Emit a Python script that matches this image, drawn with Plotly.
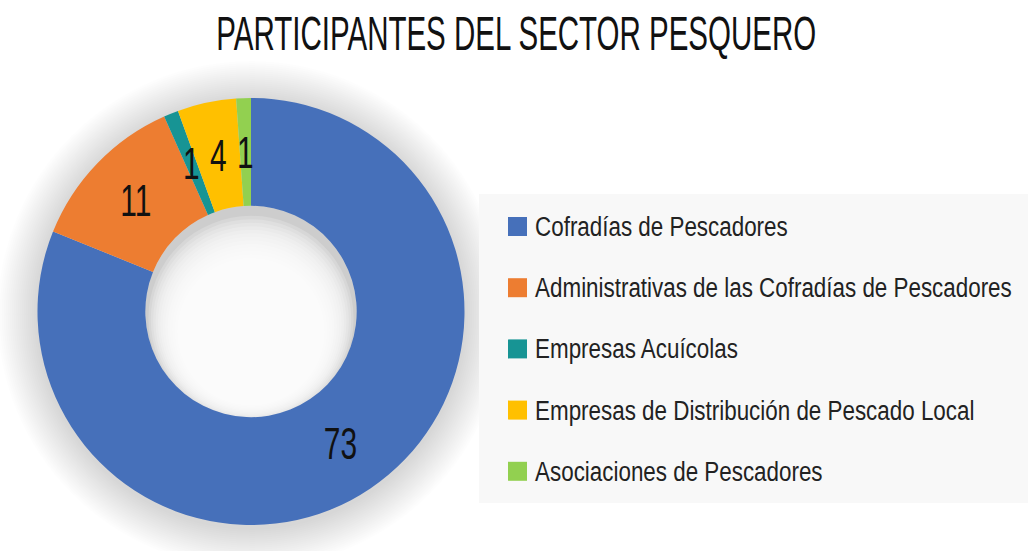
import json
import math
import plotly.graph_objects as go

# Participants by group
categories = [
    "Cofradías de Pescadores",
    "Administrativas de las Cofradías de Pescadores",
    "Empresas Acuícolas",
    "Empresas de Distribución de Pescado Local",
    "Asociaciones de Pescadores",
]
participants = [73, 11, 1, 4, 1]
colors = ["#4670BA", "#ED7D31", "#179494", "#FFC000", "#92D050"]

title_text = "PARTICIPANTES DEL SECTOR PESQUERO"

W, H = 1028, 551
FONT = "Liberation Sans, Arial, sans-serif"

# donut geometry (pixels)
cx, cy, R = 251, 311.5, 213.5
hole = 0.495


def px(x):
    return x / W


def py(y):
    return 1 - y / H


fig = go.Figure()
fig.add_trace(go.Pie(
    labels=categories,
    values=participants,
    sort=False,
    direction="clockwise",
    rotation=0,
    hole=hole,
    marker=dict(colors=colors, line=dict(width=0)),
    textinfo="none",
    domain=dict(x=[px(cx - R), px(cx + R)], y=[py(cy + R), py(cy - R)]),
    showlegend=False,
    hoverinfo="label+value",
))

shapes = []
# soft glow around the ring
for i in range(20):
    r = R + 40 - i * 2
    shapes.append(dict(
        type="circle", xref="paper", yref="paper",
        xsizemode="pixel", ysizemode="pixel",
        xanchor=px(cx), yanchor=py(cy + 3),
        x0=-r, x1=r, y0=-r, y1=r,
        fillcolor="rgba(0,0,0,0.009)", line=dict(width=0), layer="below",
    ))
# shading inside the hole, darker near its top edge
r_in = R * hole
shapes.append(dict(
    type="circle", xref="paper", yref="paper",
    xsizemode="pixel", ysizemode="pixel",
    xanchor=px(cx), yanchor=py(cy),
    x0=-r_in, x1=r_in, y0=-r_in, y1=r_in,
    fillcolor="#cdcdcd", line=dict(width=0), layer="below",
))
for i in range(16):
    r = r_in - 3 - i * 2.4
    shapes.append(dict(
        type="circle", xref="paper", yref="paper",
        xsizemode="pixel", ysizemode="pixel",
        xanchor=px(cx), yanchor=py(cy + 7 + i * 1.1),
        x0=-r, x1=r, y0=-r, y1=r,
        fillcolor="rgba(255,255,255,0.2)", line=dict(width=0), layer="below",
    ))

# legend panel
shapes.append(dict(
    type="rect", xref="paper", yref="paper",
    x0=px(479), x1=px(1028), y0=py(503), y1=py(194),
    fillcolor="#f8f8f8", line=dict(width=0), layer="below",
))

annotations = []
squeeze = []  # horizontal condensing factor per annotation
anchor = []   # point the condensing is taken about

# value labels at the middle of each slice
total = sum(participants)
r_mid = (R + r_in) / 2
cum = 0
for v in participants:
    a = math.radians((cum + v / 2) / total * 360)
    cum += v
    annotations.append(dict(
        text=str(v), xref="paper", yref="paper",
        x=px(cx + r_mid * math.sin(a)), y=py(cy - r_mid * math.cos(a)),
        xanchor="center", yanchor="middle", showarrow=False,
        font=dict(family=FONT, size=44, color="#111111"),
    ))
    squeeze.append(0.68)
    anchor.append("middle")

# legend entries
leg_x, leg_y0, leg_step, sw = 508, 226.5, 61.2, 19
for i, (name, col) in enumerate(zip(categories, colors)):
    yc = leg_y0 + i * leg_step
    shapes.append(dict(
        type="rect", xref="paper", yref="paper",
        x0=px(leg_x), x1=px(leg_x + sw), y0=py(yc + sw / 2), y1=py(yc - sw / 2),
        fillcolor=col, line=dict(width=0),
    ))
    annotations.append(dict(
        text=name, xref="paper", yref="paper",
        x=px(533), y=py(yc), xanchor="left", yanchor="middle",
        showarrow=False, font=dict(family=FONT, size=28, color="#222222"),
    ))
    squeeze.append(0.80)
    anchor.append("start")

annotations.append(dict(
    text=title_text, xref="paper", yref="paper",
    x=px(516.5), y=py(32.5), xanchor="center", yanchor="middle",
    showarrow=False, font=dict(family=FONT, size=49, color="#111111"),
))
squeeze.append(0.602)
anchor.append("middle")

fig.update_layout(
    width=W, height=H,
    margin=dict(l=0, r=0, t=0, b=0),
    paper_bgcolor="white", plot_bgcolor="white",
    shapes=shapes, annotations=annotations,
    showlegend=False,
)

# condensed lettering: narrow each annotation's text about its anchor
post = """
var gd = document.getElementById('{plot_id}');
var sq = %s, an = %s;
var groups = gd.querySelectorAll('g.annotation');
groups.forEach(function(g, k) {
  var idx = g.hasAttribute('data-index') ? parseInt(g.getAttribute('data-index')) : k;
  var t = g.querySelector('text.annotation-text');
  if (!t || sq[idx] === undefined) return;
  var b = t.getBBox();
  var ox = an[idx] === 'start' ? b.x : b.x + b.width / 2;
  t.setAttribute('transform', 'translate(' + ox + ',0) scale(' + sq[idx] + ',1) translate(' + (-ox) + ',0)');
});
""" % (json.dumps(squeeze), json.dumps(anchor))

fig.write_html("out.html", post_script=post)
